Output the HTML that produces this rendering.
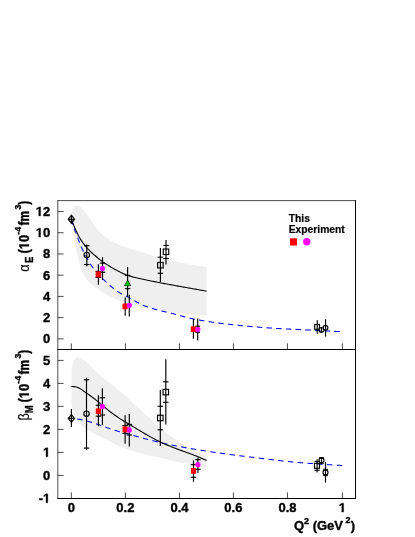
<!DOCTYPE html>
<html><head><meta charset="utf-8"><title>plot</title>
<style>html,body{margin:0;padding:0;background:#fff;}svg{display:block;will-change:transform;}</style></head>
<body><svg width="415" height="537" viewBox="0 0 415 537">
<rect width="415" height="537" fill="#fff"/>
<path d="M71.50,216.00 L71.32,215.44 L71.30,214.67 L71.42,213.72 L71.67,212.66 L72.05,211.52 L72.52,210.35 L73.09,209.20 L73.74,208.13 L74.46,207.17 L75.23,206.37 L76.05,205.78 L76.89,205.45 L77.76,205.43 L78.63,205.69 L79.50,206.20 L80.35,206.87 L81.18,207.65 L81.99,208.49 L82.75,209.31 L83.47,210.13 L84.16,210.93 L84.82,211.73 L85.45,212.52 L86.06,213.31 L86.65,214.09 L87.22,214.88 L87.78,215.67 L88.34,216.47 L88.88,217.28 L89.43,218.09 L89.98,218.92 L90.52,219.76 L91.07,220.60 L91.63,221.44 L92.19,222.29 L92.75,223.14 L93.32,223.99 L93.90,224.83 L94.49,225.67 L95.08,226.51 L95.69,227.34 L96.32,228.16 L96.95,228.96 L97.60,229.76 L98.27,230.54 L98.95,231.30 L99.65,232.05 L100.37,232.78 L101.10,233.49 L101.85,234.19 L102.61,234.87 L103.39,235.53 L104.18,236.18 L104.98,236.82 L105.80,237.43 L106.63,238.03 L107.46,238.62 L108.32,239.19 L109.18,239.75 L110.05,240.29 L110.93,240.81 L111.82,241.32 L112.71,241.82 L113.62,242.30 L114.53,242.76 L115.45,243.22 L116.37,243.65 L117.30,244.08 L118.23,244.49 L119.17,244.88 L120.12,245.27 L121.06,245.64 L122.01,246.00 L122.97,246.35 L123.92,246.69 L124.88,247.02 L125.84,247.35 L126.81,247.67 L127.78,247.98 L128.74,248.28 L129.71,248.58 L130.69,248.88 L131.66,249.18 L132.63,249.47 L133.60,249.76 L134.58,250.05 L135.55,250.34 L136.53,250.63 L137.50,250.92 L138.47,251.21 L139.44,251.51 L140.41,251.81 L141.38,252.11 L142.35,252.41 L143.32,252.71 L144.29,253.01 L145.26,253.31 L146.23,253.62 L147.20,253.92 L148.17,254.22 L149.14,254.52 L150.11,254.82 L151.08,255.12 L152.06,255.42 L153.03,255.71 L154.00,256.00 L154.97,256.29 L155.95,256.58 L156.92,256.87 L157.89,257.15 L158.87,257.43 L159.85,257.70 L160.83,257.97 L161.81,258.24 L162.79,258.50 L163.77,258.76 L164.75,259.02 L165.73,259.27 L166.72,259.52 L167.70,259.76 L168.69,260.00 L169.68,260.24 L170.67,260.47 L171.66,260.70 L172.65,260.93 L173.64,261.15 L174.63,261.38 L175.62,261.59 L176.61,261.81 L177.61,262.02 L178.60,262.23 L179.60,262.44 L180.59,262.64 L181.59,262.84 L182.59,263.04 L183.58,263.24 L184.58,263.43 L185.58,263.62 L186.58,263.81 L187.58,264.00 L188.58,264.18 L189.58,264.36 L190.58,264.54 L191.58,264.72 L192.58,264.90 L193.58,265.07 L194.58,265.24 L195.58,265.41 L196.58,265.58 L197.58,265.75 L198.59,265.92 L199.59,266.08 L200.59,266.25 L201.59,266.41 L202.59,266.57 L203.59,266.73 L204.60,266.89 L205.60,267.04 L206.60,267.20 L206.60,315.70 L205.42,315.58 L204.24,315.47 L203.06,315.36 L201.88,315.24 L200.70,315.13 L199.52,315.02 L198.33,314.91 L197.15,314.79 L195.97,314.68 L194.79,314.57 L193.61,314.46 L192.43,314.34 L191.24,314.23 L190.06,314.12 L188.88,314.00 L187.70,313.88 L186.52,313.77 L185.34,313.65 L184.16,313.53 L182.97,313.40 L181.79,313.28 L180.61,313.16 L179.43,313.03 L178.25,312.90 L177.07,312.77 L175.89,312.63 L174.71,312.50 L173.53,312.36 L172.36,312.22 L171.18,312.07 L170.00,311.93 L168.82,311.77 L167.65,311.62 L166.47,311.46 L165.29,311.30 L164.12,311.14 L162.94,310.97 L161.77,310.80 L160.59,310.62 L159.42,310.44 L158.25,310.26 L157.08,310.07 L155.91,309.88 L154.73,309.68 L153.57,309.48 L152.40,309.27 L151.23,309.06 L150.06,308.84 L148.89,308.62 L147.73,308.39 L146.56,308.16 L145.40,307.92 L144.24,307.67 L143.07,307.42 L141.91,307.16 L140.75,306.90 L139.59,306.63 L138.44,306.35 L137.28,306.07 L136.12,305.78 L134.97,305.48 L133.81,305.18 L132.66,304.87 L131.51,304.55 L130.37,304.22 L129.22,303.88 L128.08,303.54 L126.94,303.19 L125.81,302.82 L124.68,302.45 L123.55,302.07 L122.42,301.67 L121.30,301.27 L120.19,300.86 L119.08,300.43 L117.97,300.00 L116.88,299.55 L115.78,299.09 L114.69,298.62 L113.61,298.13 L112.54,297.64 L111.47,297.13 L110.41,296.60 L109.35,296.07 L108.30,295.52 L107.26,294.95 L106.23,294.38 L105.20,293.79 L104.18,293.18 L103.17,292.57 L102.17,291.94 L101.17,291.29 L100.18,290.64 L99.19,289.97 L98.21,289.29 L97.24,288.59 L96.28,287.89 L95.32,287.17 L94.36,286.44 L93.42,285.70 L92.49,284.94 L91.56,284.17 L90.66,283.38 L89.78,282.57 L88.92,281.74 L88.09,280.89 L87.29,280.02 L86.52,279.12 L85.79,278.19 L85.10,277.24 L84.45,276.26 L83.84,275.25 L83.27,274.21 L82.74,273.16 L82.24,272.08 L81.77,270.98 L81.33,269.87 L80.92,268.75 L80.53,267.61 L80.15,266.47 L79.80,265.32 L79.46,264.17 L79.14,263.01 L78.82,261.86 L78.51,260.70 L78.22,259.55 L77.93,258.39 L77.65,257.24 L77.39,256.08 L77.12,254.93 L76.87,253.77 L76.63,252.61 L76.39,251.45 L76.16,250.29 L75.93,249.13 L75.71,247.97 L75.49,246.80 L75.28,245.64 L75.07,244.47 L74.87,243.30 L74.67,242.14 L74.48,240.97 L74.29,239.79 L74.10,238.62 L73.91,237.45 L73.73,236.28 L73.55,235.10 L73.37,233.93 L73.19,232.75 L73.02,231.58 L72.85,230.40 L72.68,229.23 L72.51,228.05 L72.34,226.87 L72.17,225.70 L72.00,224.52 L71.83,223.35 L71.67,222.17 L71.50,221.00Z" fill="#efefef"/>
<path d="M71.60,372.10 L71.64,371.60 L71.70,370.85 L71.80,369.89 L71.94,368.77 L72.12,367.52 L72.36,366.18 L72.65,364.81 L73.02,363.44 L73.46,362.11 L73.98,360.87 L74.59,359.75 L75.29,358.80 L76.10,358.07 L77.01,357.59 L78.04,357.39 L79.15,357.47 L80.29,357.76 L81.42,358.21 L82.48,358.77 L83.46,359.39 L84.37,360.07 L85.23,360.80 L86.05,361.56 L86.84,362.34 L87.63,363.14 L88.42,363.94 L89.21,364.74 L90.00,365.55 L90.79,366.36 L91.57,367.17 L92.36,367.98 L93.16,368.79 L93.96,369.60 L94.76,370.41 L95.56,371.21 L96.38,372.00 L97.20,372.78 L98.02,373.56 L98.86,374.33 L99.70,375.08 L100.55,375.83 L101.41,376.56 L102.28,377.29 L103.15,378.02 L104.03,378.73 L104.91,379.44 L105.79,380.14 L106.68,380.84 L107.58,381.54 L108.47,382.23 L109.37,382.92 L110.26,383.61 L111.16,384.30 L112.06,384.99 L112.96,385.68 L113.85,386.37 L114.74,387.07 L115.63,387.77 L116.52,388.47 L117.40,389.18 L118.28,389.89 L119.15,390.61 L120.02,391.33 L120.88,392.06 L121.74,392.80 L122.60,393.54 L123.45,394.28 L124.30,395.03 L125.15,395.78 L125.99,396.53 L126.83,397.29 L127.67,398.05 L128.50,398.82 L129.34,399.58 L130.17,400.35 L131.00,401.12 L131.83,401.89 L132.66,402.66 L133.49,403.43 L134.31,404.20 L135.14,404.98 L135.97,405.75 L136.80,406.52 L137.63,407.29 L138.46,408.06 L139.29,408.83 L140.12,409.60 L140.95,410.36 L141.78,411.13 L142.62,411.90 L143.45,412.66 L144.29,413.42 L145.13,414.18 L145.96,414.94 L146.80,415.70 L147.64,416.46 L148.48,417.22 L149.33,417.97 L150.17,418.72 L151.02,419.47 L151.86,420.23 L152.71,420.97 L153.56,421.72 L154.41,422.47 L155.26,423.21 L156.12,423.95 L156.97,424.69 L157.83,425.43 L158.69,426.17 L159.55,426.90 L160.41,427.64 L161.27,428.37 L162.14,429.09 L163.01,429.82 L163.88,430.54 L164.76,431.26 L165.64,431.97 L166.52,432.68 L167.40,433.39 L168.29,434.09 L169.18,434.79 L170.07,435.48 L170.97,436.17 L171.87,436.86 L172.78,437.54 L173.69,438.21 L174.60,438.88 L175.52,439.54 L176.44,440.20 L177.37,440.85 L178.30,441.50 L179.24,442.13 L180.18,442.76 L181.12,443.39 L182.07,444.00 L183.03,444.61 L183.99,445.21 L184.96,445.80 L185.93,446.38 L186.91,446.95 L187.89,447.51 L188.88,448.06 L189.87,448.60 L190.87,449.13 L191.88,449.65 L192.89,450.16 L193.90,450.65 L194.93,451.13 L195.96,451.60 L196.99,452.05 L198.03,452.50 L199.08,452.92 L200.13,453.34 L201.20,453.74 L202.26,454.12 L203.34,454.49 L204.42,454.84 L205.51,455.18 L206.60,455.50 L206.60,467.80 L205.59,467.62 L204.59,467.44 L203.59,467.26 L202.58,467.07 L201.58,466.88 L200.58,466.69 L199.57,466.50 L198.57,466.31 L197.57,466.11 L196.57,465.91 L195.57,465.71 L194.57,465.51 L193.57,465.31 L192.57,465.10 L191.57,464.89 L190.57,464.68 L189.57,464.47 L188.57,464.26 L187.57,464.05 L186.57,463.83 L185.58,463.62 L184.58,463.40 L183.58,463.18 L182.59,462.96 L181.59,462.74 L180.59,462.52 L179.60,462.30 L178.60,462.08 L177.60,461.85 L176.61,461.63 L175.61,461.40 L174.62,461.18 L173.62,460.95 L172.63,460.72 L171.63,460.50 L170.64,460.27 L169.64,460.04 L168.65,459.81 L167.65,459.58 L166.66,459.35 L165.66,459.12 L164.67,458.90 L163.68,458.67 L162.68,458.44 L161.69,458.21 L160.69,457.98 L159.70,457.75 L158.70,457.53 L157.71,457.30 L156.71,457.07 L155.72,456.84 L154.72,456.62 L153.73,456.39 L152.73,456.17 L151.74,455.94 L150.74,455.71 L149.75,455.48 L148.75,455.25 L147.76,455.02 L146.77,454.78 L145.77,454.55 L144.78,454.30 L143.79,454.06 L142.80,453.81 L141.81,453.56 L140.82,453.31 L139.84,453.05 L138.85,452.78 L137.86,452.51 L136.88,452.24 L135.90,451.96 L134.91,451.67 L133.93,451.38 L132.96,451.08 L131.98,450.77 L131.01,450.46 L130.03,450.14 L129.06,449.82 L128.10,449.49 L127.13,449.15 L126.17,448.80 L125.21,448.45 L124.26,448.09 L123.30,447.72 L122.36,447.34 L121.41,446.96 L120.47,446.57 L119.53,446.17 L118.60,445.76 L117.67,445.34 L116.74,444.91 L115.82,444.48 L114.90,444.04 L113.99,443.60 L113.08,443.14 L112.17,442.69 L111.26,442.22 L110.35,441.76 L109.45,441.29 L108.54,440.82 L107.64,440.35 L106.74,439.88 L105.83,439.41 L104.92,438.93 L104.02,438.46 L103.11,438.00 L102.20,437.53 L101.28,437.07 L100.37,436.61 L99.44,436.16 L98.52,435.71 L97.59,435.27 L96.66,434.83 L95.73,434.39 L94.80,433.95 L93.87,433.51 L92.95,433.06 L92.03,432.61 L91.12,432.14 L90.22,431.66 L89.33,431.16 L88.46,430.64 L87.60,430.10 L86.76,429.54 L85.93,428.95 L85.13,428.33 L84.34,427.69 L83.57,427.03 L82.81,426.34 L82.07,425.64 L81.33,424.93 L80.60,424.20 L79.87,423.47 L79.16,422.74 L78.45,421.99 L77.78,421.22 L77.14,420.42 L76.56,419.59 L76.03,418.72 L75.56,417.82 L75.14,416.89 L74.75,415.94 L74.38,414.98 L74.02,414.02 L73.68,413.05 L73.35,412.08 L73.04,411.11 L72.74,410.13 L72.47,409.16 L72.22,408.17 L72.00,407.18 L71.81,406.19 L71.66,405.19 L71.54,404.18 L71.46,403.16 L71.42,402.14 L71.43,401.10 L71.49,400.06 L71.60,399.00Z" fill="#efefef"/>
<path d="M71.40,219.20 L71.40,219.20 L71.79,220.89 L72.18,222.45 L72.56,223.78 L72.80,224.53 M74.20,228.48 L74.50,229.24 L74.89,230.21 L75.28,231.18 L75.66,232.16 L76.05,233.16 L76.21,233.59 M77.63,237.55 L77.99,238.57 L78.38,239.65 L78.76,240.72 L79.15,241.75 L79.52,242.71 M81.17,246.58 L81.48,247.26 L81.86,248.10 L82.25,248.92 L82.64,249.73 L83.03,250.53 L83.41,251.32 L83.52,251.54 M85.43,255.29 L85.74,255.88 L86.13,256.61 L86.51,257.33 L86.90,258.04 L87.29,258.73 L87.68,259.42 L88.06,260.10 L88.07,260.11 M90.22,263.72 L90.39,264.00 L90.78,264.61 L91.17,265.21 L91.55,265.79 L91.94,266.34 L92.33,266.87 L92.72,267.38 L93.10,267.87 L93.39,268.21 M96.15,271.37 L96.20,271.43 L96.59,271.88 L96.98,272.33 L97.37,272.78 L97.75,273.23 L98.14,273.68 L98.53,274.13 L98.92,274.57 L99.30,275.02 L99.69,275.46 L99.75,275.53 M102.60,278.61 L102.79,278.81 L103.18,279.19 L103.57,279.57 L103.95,279.94 L104.34,280.31 L104.73,280.68 L105.12,281.04 L105.50,281.41 L105.89,281.77 L106.28,282.13 L106.58,282.41 M109.70,285.22 L109.77,285.27 L110.16,285.61 L110.54,285.95 L110.93,286.28 L111.32,286.61 L111.71,286.93 L112.09,287.25 L112.48,287.57 L112.87,287.89 L113.26,288.20 L113.64,288.51 L113.93,288.74 M117.30,291.24 L117.52,291.39 L117.91,291.65 L118.29,291.91 L118.68,292.17 L119.07,292.42 L119.46,292.66 L119.84,292.90 L120.23,293.14 L120.62,293.37 L121.01,293.59 L121.39,293.80 L121.78,294.01 L121.99,294.12 M125.76,295.96 L126.05,296.10 L126.43,296.28 L126.82,296.48 L127.21,296.67 L127.60,296.87 L127.98,297.08 L128.37,297.28 L128.76,297.49 L129.15,297.70 L129.53,297.92 L129.92,298.14 L130.31,298.36 L130.62,298.53 M134.25,300.65 L134.57,300.84 L134.96,301.06 L135.35,301.29 L135.73,301.51 L136.12,301.74 L136.51,301.96 L136.90,302.18 L137.28,302.39 L137.67,302.61 L138.06,302.82 L138.45,303.03 L138.83,303.24 L139.04,303.35 M142.82,305.16 L143.10,305.28 L143.48,305.43 L143.87,305.59 L144.26,305.74 L144.65,305.89 L145.04,306.03 L145.42,306.18 L145.81,306.32 L146.20,306.46 L146.59,306.60 L146.97,306.73 L147.36,306.87 L147.75,307.00 L147.98,307.08 M151.98,308.34 L152.01,308.35 L152.40,308.47 L152.79,308.58 L153.17,308.70 L153.56,308.81 L153.95,308.92 L154.34,309.03 L154.72,309.14 L155.11,309.25 L155.50,309.36 L155.89,309.47 L156.27,309.58 L156.66,309.69 L157.05,309.79 L157.27,309.85 M161.33,310.92 L161.70,311.01 L162.09,311.11 L162.48,311.20 L162.86,311.29 L163.25,311.39 L163.64,311.48 L164.03,311.57 L164.41,311.66 L164.80,311.75 L165.19,311.84 L165.58,311.93 L165.96,312.02 L166.35,312.11 L166.69,312.19 M170.78,313.14 L171.00,313.19 L171.39,313.28 L171.78,313.38 L172.16,313.47 L172.55,313.57 L172.94,313.66 L173.33,313.76 L173.71,313.85 L174.10,313.95 L174.49,314.05 L174.88,314.15 L175.26,314.25 L175.65,314.36 L176.04,314.46 L176.11,314.48 M180.16,315.60 L180.30,315.64 L180.69,315.75 L181.08,315.86 L181.47,315.97 L181.85,316.08 L182.24,316.19 L182.63,316.30 L183.02,316.41 L183.40,316.51 L183.79,316.62 L184.18,316.73 L184.57,316.84 L184.95,316.94 L185.34,317.05 L185.46,317.08 M189.52,318.12 L189.60,318.14 L189.99,318.23 L190.38,318.32 L190.77,318.41 L191.15,318.50 L191.54,318.58 L191.93,318.66 L192.32,318.74 L192.70,318.82 L193.09,318.90 L193.48,318.97 L193.87,319.05 L194.25,319.12 L194.64,319.20 L194.91,319.25 M199.04,320.01 L199.29,320.05 L199.68,320.12 L200.07,320.19 L200.46,320.26 L200.84,320.32 L201.23,320.39 L201.62,320.46 L202.01,320.52 L202.39,320.59 L202.78,320.65 L203.17,320.72 L203.56,320.78 L203.94,320.85 L204.33,320.91 L204.46,320.93 M208.61,321.59 L208.98,321.65 L209.37,321.70 L209.76,321.76 L210.14,321.82 L210.53,321.88 L210.92,321.94 L211.31,321.99 L211.69,322.05 L212.08,322.11 L212.47,322.16 L212.86,322.22 L213.24,322.28 L213.63,322.33 L214.02,322.39 L214.05,322.39 M218.21,322.96 L218.28,322.97 L218.67,323.02 L219.06,323.07 L219.45,323.12 L219.83,323.17 L220.22,323.22 L220.61,323.27 L221.00,323.32 L221.38,323.37 L221.77,323.42 L222.16,323.47 L222.55,323.52 L222.93,323.57 L223.32,323.61 L223.67,323.66 M227.84,324.15 L227.97,324.17 L228.36,324.21 L228.75,324.26 L229.13,324.30 L229.52,324.35 L229.91,324.39 L230.30,324.43 L230.68,324.48 L231.07,324.52 L231.46,324.56 L231.85,324.61 L232.23,324.65 L232.62,324.69 L233.01,324.73 L233.30,324.77 M237.48,325.21 L237.66,325.23 L238.05,325.27 L238.44,325.31 L238.82,325.35 L239.21,325.39 L239.60,325.43 L239.99,325.47 L240.37,325.51 L240.76,325.55 L241.15,325.59 L241.54,325.63 L241.92,325.67 L242.31,325.70 L242.70,325.74 L242.95,325.77 M247.13,326.17 L247.35,326.19 L247.74,326.22 L248.12,326.26 L248.51,326.30 L248.90,326.33 L249.29,326.37 L249.67,326.40 L250.06,326.44 L250.45,326.47 L250.84,326.51 L251.22,326.54 L251.61,326.58 L252.00,326.61 L252.39,326.64 L252.61,326.66 M256.79,327.02 L257.04,327.04 L257.43,327.07 L257.81,327.10 L258.20,327.13 L258.59,327.16 L258.98,327.20 L259.36,327.23 L259.75,327.26 L260.14,327.29 L260.53,327.32 L260.91,327.35 L261.30,327.38 L261.69,327.41 L262.08,327.44 L262.28,327.45 M266.47,327.76 L266.73,327.78 L267.11,327.80 L267.50,327.83 L267.89,327.86 L268.28,327.88 L268.66,327.91 L269.05,327.94 L269.44,327.96 L269.83,327.99 L270.22,328.01 L270.60,328.04 L270.99,328.06 L271.38,328.09 L271.77,328.11 L271.95,328.13 M276.15,328.38 L276.42,328.40 L276.80,328.42 L277.19,328.44 L277.58,328.46 L277.97,328.49 L278.35,328.51 L278.74,328.53 L279.13,328.55 L279.52,328.57 L279.90,328.59 L280.29,328.62 L280.68,328.64 L281.07,328.66 L281.45,328.68 L281.64,328.69 M285.83,328.91 L286.10,328.92 L286.49,328.94 L286.88,328.96 L287.27,328.98 L287.65,329.00 L288.04,329.02 L288.43,329.04 L288.82,329.06 L289.21,329.07 L289.59,329.09 L289.98,329.11 L290.37,329.13 L290.76,329.15 L291.14,329.17 L291.32,329.18 M295.52,329.38 L295.79,329.39 L296.18,329.41 L296.57,329.43 L296.96,329.45 L297.34,329.47 L297.73,329.49 L298.12,329.51 L298.51,329.53 L298.89,329.54 L299.28,329.56 L299.67,329.58 L300.06,329.60 L300.44,329.62 L300.83,329.64 L301.01,329.65 M305.21,329.86 L305.48,329.87 L305.87,329.89 L306.26,329.91 L306.65,329.93 L307.03,329.95 L307.42,329.97 L307.81,329.99 L308.20,330.01 L308.58,330.03 L308.97,330.05 L309.36,330.07 L309.75,330.09 L310.13,330.12 L310.52,330.14 L310.70,330.14 M314.89,330.36 L315.17,330.38 L315.56,330.40 L315.95,330.42 L316.33,330.44 L316.72,330.46 L317.11,330.48 L317.50,330.50 L317.88,330.52 L318.27,330.54 L318.66,330.56 L319.05,330.58 L319.43,330.60 L319.82,330.62 L320.21,330.64 L320.39,330.65 M324.58,330.87 L324.86,330.88 L325.25,330.90 L325.64,330.92 L326.02,330.94 L326.41,330.96 L326.80,330.98 L327.19,331.00 L327.57,331.02 L327.96,331.04 L328.35,331.06 L328.74,331.07 L329.12,331.09 L329.51,331.11 L329.90,331.13 L330.07,331.14 M334.27,331.34 L334.55,331.36 L334.94,331.37 L335.32,331.39 L335.71,331.41 L336.10,331.43 L336.49,331.45 L336.87,331.46 L337.26,331.48 L337.65,331.50 L338.04,331.52 L338.42,331.53 L338.81,331.55 L339.20,331.57 L339.59,331.58 L339.76,331.59" fill="none" stroke="#0000ff" stroke-width="1.05"/>
<path d="M71.40,418.40 L71.40,418.40 L71.79,418.43 L72.18,418.45 L72.56,418.48 L72.85,418.50 M77.12,418.96 L77.21,418.97 L77.60,419.03 L77.99,419.08 L78.38,419.15 L78.76,419.21 L79.15,419.28 L79.54,419.34 L79.93,419.42 L80.31,419.49 L80.70,419.56 L81.09,419.64 L81.48,419.72 L81.86,419.80 L82.25,419.88 L82.53,419.94 M86.71,420.96 L86.90,421.01 L87.29,421.12 L87.68,421.23 L88.06,421.33 L88.45,421.44 L88.84,421.55 L89.23,421.67 L89.62,421.78 L90.00,421.89 L90.39,422.01 L90.78,422.13 L91.17,422.24 L91.55,422.36 L91.94,422.48 L91.99,422.50 M96.08,423.83 L96.20,423.87 L96.59,424.00 L96.98,424.13 L97.37,424.26 L97.75,424.40 L98.14,424.53 L98.53,424.66 L98.92,424.80 L99.30,424.93 L99.69,425.06 L100.08,425.20 L100.47,425.34 L100.85,425.47 L101.24,425.61 L101.28,425.62 M105.33,427.05 L105.50,427.11 L105.89,427.25 L106.28,427.38 L106.67,427.52 L107.05,427.65 L107.44,427.79 L107.83,427.92 L108.22,428.06 L108.61,428.19 L108.99,428.33 L109.38,428.46 L109.77,428.59 L110.16,428.73 L110.53,428.85 M114.61,430.20 L114.81,430.26 L115.19,430.38 L115.58,430.50 L115.97,430.62 L116.36,430.74 L116.74,430.86 L117.13,430.98 L117.52,431.09 L117.91,431.21 L118.29,431.32 L118.68,431.43 L119.07,431.54 L119.46,431.65 L119.84,431.76 L119.88,431.77 M124.03,432.91 L124.11,432.93 L124.49,433.04 L124.88,433.15 L125.27,433.25 L125.66,433.36 L126.05,433.47 L126.43,433.58 L126.82,433.68 L127.21,433.79 L127.60,433.90 L127.98,434.01 L128.37,434.12 L128.76,434.22 L129.15,434.33 L129.33,434.38 M133.47,435.53 L133.80,435.62 L134.18,435.73 L134.57,435.84 L134.96,435.95 L135.35,436.05 L135.73,436.16 L136.12,436.27 L136.51,436.37 L136.90,436.48 L137.28,436.59 L137.67,436.69 L138.06,436.80 L138.45,436.91 L138.77,437.00 M142.92,438.13 L143.10,438.17 L143.48,438.28 L143.87,438.38 L144.26,438.49 L144.65,438.59 L145.04,438.69 L145.42,438.80 L145.81,438.90 L146.20,439.00 L146.59,439.11 L146.97,439.21 L147.36,439.31 L147.75,439.41 L148.14,439.52 L148.24,439.54 M152.40,440.62 L152.79,440.72 L153.17,440.81 L153.56,440.91 L153.95,441.01 L154.34,441.11 L154.72,441.20 L155.11,441.30 L155.50,441.40 L155.89,441.49 L156.27,441.59 L156.66,441.68 L157.05,441.78 L157.44,441.87 L157.74,441.95 M161.92,442.94 L162.09,442.97 L162.48,443.06 L162.86,443.15 L163.25,443.24 L163.64,443.33 L164.03,443.42 L164.41,443.50 L164.80,443.59 L165.19,443.68 L165.58,443.76 L165.96,443.85 L166.35,443.93 L166.74,444.01 L167.13,444.10 L167.29,444.13 M171.50,445.00 L171.78,445.06 L172.16,445.14 L172.55,445.22 L172.94,445.29 L173.33,445.37 L173.71,445.45 L174.10,445.52 L174.49,445.60 L174.88,445.68 L175.26,445.75 L175.65,445.83 L176.04,445.90 L176.43,445.98 L176.81,446.05 L176.90,446.07 M181.12,446.86 L181.47,446.93 L181.85,447.00 L182.24,447.07 L182.63,447.14 L183.02,447.21 L183.40,447.28 L183.79,447.35 L184.18,447.42 L184.57,447.49 L184.95,447.56 L185.34,447.63 L185.73,447.70 L186.12,447.77 L186.50,447.84 L186.53,447.84 M190.77,448.58 L191.15,448.64 L191.54,448.71 L191.93,448.77 L192.32,448.84 L192.70,448.91 L193.09,448.97 L193.48,449.04 L193.87,449.10 L194.25,449.16 L194.64,449.23 L195.03,449.29 L195.42,449.36 L195.80,449.42 L196.19,449.49 L196.20,449.49 M200.44,450.17 L200.46,450.17 L200.84,450.24 L201.23,450.30 L201.62,450.36 L202.01,450.42 L202.39,450.48 L202.78,450.54 L203.17,450.60 L203.56,450.66 L203.94,450.72 L204.33,450.78 L204.72,450.84 L205.11,450.90 L205.49,450.96 L205.87,451.02 M210.13,451.67 L210.14,451.67 L210.53,451.73 L210.92,451.79 L211.31,451.85 L211.69,451.90 L212.08,451.96 L212.47,452.02 L212.86,452.08 L213.24,452.14 L213.63,452.19 L214.02,452.25 L214.41,452.31 L214.79,452.36 L215.18,452.42 L215.57,452.48 M219.82,453.09 L219.83,453.09 L220.22,453.15 L220.61,453.20 L221.00,453.26 L221.38,453.31 L221.77,453.37 L222.16,453.42 L222.55,453.48 L222.93,453.53 L223.32,453.58 L223.71,453.64 L224.10,453.69 L224.48,453.74 L224.87,453.80 L225.26,453.85 L225.27,453.85 M229.53,454.42 L229.91,454.47 L230.30,454.53 L230.68,454.58 L231.07,454.63 L231.46,454.68 L231.85,454.73 L232.23,454.78 L232.62,454.83 L233.01,454.88 L233.40,454.93 L233.78,454.98 L234.17,455.03 L234.56,455.08 L234.95,455.13 L234.98,455.13 M239.25,455.68 L239.60,455.72 L239.99,455.77 L240.37,455.82 L240.76,455.86 L241.15,455.91 L241.54,455.96 L241.92,456.01 L242.31,456.06 L242.70,456.10 L243.09,456.15 L243.47,456.20 L243.86,456.25 L244.25,456.30 L244.64,456.34 L244.71,456.35 M248.98,456.87 L249.29,456.91 L249.67,456.96 L250.06,457.00 L250.45,457.05 L250.84,457.10 L251.22,457.15 L251.61,457.19 L252.00,457.24 L252.39,457.29 L252.78,457.33 L253.16,457.38 L253.55,457.43 L253.94,457.47 L254.33,457.52 L254.44,457.53 M258.71,458.04 L258.98,458.08 L259.36,458.12 L259.75,458.17 L260.14,458.22 L260.53,458.26 L260.91,458.31 L261.30,458.36 L261.69,458.40 L262.08,458.45 L262.46,458.50 L262.85,458.54 L263.24,458.59 L263.63,458.64 L264.01,458.69 L264.17,458.70 M268.44,459.23 L268.66,459.26 L269.05,459.30 L269.44,459.35 L269.83,459.40 L270.22,459.45 L270.60,459.49 L270.99,459.54 L271.38,459.59 L271.77,459.63 L272.15,459.68 L272.54,459.73 L272.93,459.78 L273.32,459.82 L273.70,459.87 L273.89,459.89 M278.16,460.40 L278.35,460.43 L278.74,460.47 L279.13,460.52 L279.52,460.56 L279.90,460.61 L280.29,460.65 L280.68,460.70 L281.07,460.74 L281.45,460.79 L281.84,460.83 L282.23,460.88 L282.62,460.92 L283.00,460.96 L283.39,461.01 L283.63,461.04 M287.90,461.50 L288.04,461.52 L288.43,461.56 L288.82,461.60 L289.21,461.64 L289.59,461.68 L289.98,461.72 L290.37,461.76 L290.76,461.80 L291.14,461.83 L291.53,461.87 L291.92,461.91 L292.31,461.95 L292.69,461.99 L293.08,462.02 L293.38,462.05 M297.66,462.44 L297.73,462.45 L298.12,462.48 L298.51,462.51 L298.89,462.54 L299.28,462.58 L299.67,462.61 L300.06,462.64 L300.44,462.67 L300.83,462.71 L301.22,462.74 L301.61,462.77 L301.99,462.80 L302.38,462.83 L302.77,462.86 L303.14,462.89 M307.43,463.23 L307.81,463.26 L308.20,463.29 L308.58,463.32 L308.97,463.34 L309.36,463.37 L309.75,463.40 L310.13,463.43 L310.52,463.46 L310.91,463.49 L311.30,463.52 L311.68,463.54 L312.07,463.57 L312.46,463.60 L312.85,463.63 L312.91,463.63 M317.20,463.93 L317.50,463.95 L317.88,463.98 L318.27,464.01 L318.66,464.03 L319.05,464.06 L319.43,464.08 L319.82,464.11 L320.21,464.14 L320.60,464.16 L320.98,464.19 L321.37,464.21 L321.76,464.24 L322.15,464.26 L322.53,464.29 L322.69,464.30 M326.98,464.57 L327.19,464.59 L327.57,464.61 L327.96,464.64 L328.35,464.66 L328.74,464.68 L329.12,464.71 L329.51,464.73 L329.90,464.76 L330.29,464.78 L330.67,464.81 L331.06,464.83 L331.45,464.85 L331.84,464.88 L332.22,464.90 L332.47,464.92 M336.76,465.18 L336.87,465.18 L337.26,465.21 L337.65,465.23 L338.04,465.25 L338.42,465.28 L338.81,465.30 L339.20,465.32 L339.59,465.35 L339.97,465.37 L340.36,465.39 L340.75,465.41 L341.14,465.44 L341.52,465.46 L341.91,465.48 L342.25,465.50" fill="none" stroke="#0000ff" stroke-width="1.05"/>
<path d="M71.40,219.20 L72.54,222.24 L73.67,225.13 L74.81,227.86 L75.94,230.40 L77.08,232.85 L78.22,235.15 L79.35,237.27 L80.49,239.16 L81.63,240.92 L82.76,242.58 L83.90,244.13 L85.03,245.60 L86.17,246.97 L87.31,248.27 L88.44,249.48 L89.58,250.63 L90.71,251.72 L91.85,252.78 L92.99,253.79 L94.12,254.80 L95.26,255.79 L96.39,256.78 L97.53,257.76 L98.67,258.72 L99.80,259.65 L100.94,260.53 L102.08,261.35 L103.21,262.14 L104.35,262.92 L105.48,263.67 L106.62,264.41 L107.76,265.14 L108.89,265.84 L110.03,266.53 L111.16,267.21 L112.30,267.87 L113.44,268.52 L114.57,269.15 L115.71,269.77 L116.85,270.38 L117.98,270.97 L119.12,271.56 L120.25,272.13 L121.39,272.69 L122.53,273.25 L123.66,273.78 L124.80,274.29 L125.93,274.77 L127.07,275.20 L128.21,275.58 L129.34,275.94 L130.48,276.27 L131.62,276.59 L132.75,276.89 L133.89,277.17 L135.02,277.45 L136.16,277.72 L137.30,277.98 L138.43,278.24 L139.57,278.50 L140.70,278.76 L141.84,279.02 L142.98,279.27 L144.11,279.52 L145.25,279.77 L146.38,280.01 L147.52,280.25 L148.66,280.48 L149.79,280.71 L150.93,280.94 L152.07,281.17 L153.20,281.39 L154.34,281.62 L155.47,281.84 L156.61,282.06 L157.75,282.28 L158.88,282.51 L160.02,282.73 L161.15,282.95 L162.29,283.17 L163.43,283.38 L164.56,283.60 L165.70,283.81 L166.84,284.03 L167.97,284.24 L169.11,284.45 L170.24,284.66 L171.38,284.87 L172.52,285.08 L173.65,285.28 L174.79,285.49 L175.92,285.69 L177.06,285.90 L178.20,286.10 L179.33,286.31 L180.47,286.51 L181.61,286.71 L182.74,286.92 L183.88,287.12 L185.01,287.32 L186.15,287.52 L187.29,287.72 L188.42,287.92 L189.56,288.13 L190.69,288.33 L191.83,288.53 L192.97,288.73 L194.10,288.94 L195.24,289.14 L196.37,289.34 L197.51,289.55 L198.65,289.75 L199.78,289.96 L200.92,290.17 L202.06,290.37 L203.19,290.58 L204.33,290.79 L205.46,290.99 L206.60,291.20" fill="none" stroke="#000" stroke-width="1.1"/>
<path d="M71.40,386.40 L72.54,386.45 L73.67,386.58 L74.81,386.78 L75.94,387.01 L77.08,387.27 L78.22,387.66 L79.35,388.19 L80.49,388.85 L81.63,389.60 L82.76,390.41 L83.90,391.24 L85.03,392.07 L86.17,392.88 L87.31,393.64 L88.44,394.42 L89.58,395.21 L90.71,396.02 L91.85,396.85 L92.99,397.69 L94.12,398.55 L95.26,399.42 L96.39,400.31 L97.53,401.22 L98.67,402.14 L99.80,403.12 L100.94,404.15 L102.08,405.18 L103.21,406.18 L104.35,407.11 L105.48,408.03 L106.62,408.93 L107.76,409.83 L108.89,410.71 L110.03,411.58 L111.16,412.44 L112.30,413.29 L113.44,414.12 L114.57,414.94 L115.71,415.75 L116.85,416.55 L117.98,417.34 L119.12,418.11 L120.25,418.87 L121.39,419.61 L122.53,420.33 L123.66,421.03 L124.80,421.72 L125.93,422.41 L127.07,423.08 L128.21,423.75 L129.34,424.43 L130.48,425.10 L131.62,425.78 L132.75,426.46 L133.89,427.14 L135.02,427.82 L136.16,428.51 L137.30,429.19 L138.43,429.87 L139.57,430.55 L140.70,431.22 L141.84,431.90 L142.98,432.57 L144.11,433.24 L145.25,433.90 L146.38,434.56 L147.52,435.21 L148.66,435.86 L149.79,436.50 L150.93,437.13 L152.07,437.76 L153.20,438.37 L154.34,438.98 L155.47,439.58 L156.61,440.17 L157.75,440.74 L158.88,441.31 L160.02,441.86 L161.15,442.41 L162.29,442.93 L163.43,443.44 L164.56,443.94 L165.70,444.42 L166.84,444.90 L167.97,445.37 L169.11,445.84 L170.24,446.30 L171.38,446.76 L172.52,447.21 L173.65,447.65 L174.79,448.09 L175.92,448.52 L177.06,448.94 L178.20,449.36 L179.33,449.78 L180.47,450.20 L181.61,450.61 L182.74,451.03 L183.88,451.44 L185.01,451.85 L186.15,452.26 L187.29,452.67 L188.42,453.09 L189.56,453.50 L190.69,453.92 L191.83,454.35 L192.97,454.77 L194.10,455.21 L195.24,455.65 L196.37,456.09 L197.51,456.54 L198.65,457.00 L199.78,457.47 L200.92,457.95 L202.06,458.43 L203.19,458.92 L204.33,459.41 L205.46,459.90 L206.60,460.40" fill="none" stroke="#000" stroke-width="1.1"/>
<g stroke="#000" stroke-width="1" fill="none">
<line x1="57.8" y1="200.29999999999998" x2="57.8" y2="499.0" stroke-width="0.7"/>
<line x1="355.5" y1="200.1" x2="355.5" y2="499.0"/>
<line x1="57.5" y1="200.6" x2="356.0" y2="200.6" stroke-width="0.7"/>
<line x1="57.5" y1="349.5" x2="356.0" y2="349.5" stroke-width="1.2"/>
<line x1="57.5" y1="498.5" x2="356.0" y2="498.5" stroke-width="1.2"/>
</g>
<g stroke="#000" stroke-width="0.7">
<line x1="57.8" y1="338.85" x2="63.599999999999994" y2="338.85"/>
<line x1="57.8" y1="317.62" x2="63.599999999999994" y2="317.62"/>
<line x1="57.8" y1="296.40" x2="63.599999999999994" y2="296.40"/>
<line x1="57.8" y1="275.17" x2="63.599999999999994" y2="275.17"/>
<line x1="57.8" y1="253.95" x2="63.599999999999994" y2="253.95"/>
<line x1="57.8" y1="232.72" x2="63.599999999999994" y2="232.72"/>
<line x1="57.8" y1="211.49" x2="63.599999999999994" y2="211.49"/>
<line x1="57.8" y1="475.40" x2="63.599999999999994" y2="475.40"/>
<line x1="57.8" y1="452.40" x2="63.599999999999994" y2="452.40"/>
<line x1="57.8" y1="429.40" x2="63.599999999999994" y2="429.40"/>
<line x1="57.8" y1="406.40" x2="63.599999999999994" y2="406.40"/>
<line x1="57.8" y1="383.40" x2="63.599999999999994" y2="383.40"/>
<line x1="57.8" y1="360.40" x2="63.599999999999994" y2="360.40"/>
<line x1="71.33" y1="349.5" x2="71.33" y2="343.4"/>
<line x1="71.33" y1="498.5" x2="71.33" y2="492.4"/>
<line x1="125.40" y1="349.5" x2="125.40" y2="343.4"/>
<line x1="125.40" y1="498.5" x2="125.40" y2="492.4"/>
<line x1="179.46" y1="349.5" x2="179.46" y2="343.4"/>
<line x1="179.46" y1="498.5" x2="179.46" y2="492.4"/>
<line x1="233.40" y1="349.5" x2="233.40" y2="343.4"/>
<line x1="233.40" y1="498.5" x2="233.40" y2="492.4"/>
<line x1="287.46" y1="349.5" x2="287.46" y2="343.4"/>
<line x1="287.46" y1="498.5" x2="287.46" y2="492.4"/>
<line x1="342.40" y1="349.5" x2="342.40" y2="343.4"/>
<line x1="342.40" y1="498.5" x2="342.40" y2="492.4"/>
</g>
<g stroke="#000" stroke-width="1.15" fill="none">
<line x1="71.40" y1="215.20" x2="71.40" y2="223.20"/>
<path d="M68.30,219.20 L71.40,215.20 L74.50,219.20 L71.40,223.20Z M68.30,219.20 L74.50,219.20" fill="none"/>
<line x1="86.80" y1="244.40" x2="86.80" y2="266.20"/><line x1="84.10" y1="245.70" x2="89.50" y2="245.70"/><line x1="84.10" y1="264.50" x2="89.50" y2="264.50"/>
<circle cx="86.80" cy="254.90" r="2.7" fill="none"/>
<line x1="98.40" y1="264.30" x2="98.40" y2="284.80"/><line x1="95.50" y1="271.40" x2="101.30" y2="271.40"/><line x1="95.50" y1="277.40" x2="101.30" y2="277.40"/>
<line x1="102.50" y1="257.20" x2="102.50" y2="279.90"/><line x1="99.80" y1="263.20" x2="105.20" y2="263.20"/><line x1="99.80" y1="272.30" x2="105.20" y2="272.30"/>
<line x1="127.60" y1="267.00" x2="127.60" y2="297.00"/><line x1="124.90" y1="275.40" x2="130.30" y2="275.40"/><line x1="124.90" y1="288.70" x2="130.30" y2="288.70"/>
<line x1="125.20" y1="297.60" x2="125.20" y2="315.70"/>
<line x1="129.30" y1="294.70" x2="129.30" y2="316.50"/>
<line x1="160.40" y1="248.10" x2="160.40" y2="282.00"/><line x1="157.70" y1="257.20" x2="163.10" y2="257.20"/><line x1="157.70" y1="273.30" x2="163.10" y2="273.30"/>
<rect x="157.65" y="262.45" width="5.50" height="5.50" fill="none"/>
<line x1="166.00" y1="240.10" x2="166.00" y2="264.40"/><line x1="163.30" y1="245.40" x2="168.70" y2="245.40"/><line x1="163.30" y1="258.50" x2="168.70" y2="258.50"/>
<rect x="163.25" y="249.05" width="5.50" height="5.50" fill="none"/>
<line x1="193.40" y1="318.90" x2="193.40" y2="338.80"/>
<line x1="197.70" y1="318.60" x2="197.70" y2="340.50"/><line x1="195.30" y1="326.20" x2="200.10" y2="326.20"/><line x1="195.30" y1="332.30" x2="200.10" y2="332.30"/>
<line x1="317.25" y1="320.30" x2="317.25" y2="333.70"/>
<rect x="314.70" y="324.50" width="4.80" height="4.80" fill="none"/>
<line x1="321.40" y1="327.00" x2="321.40" y2="333.00"/>
<circle cx="321.40" cy="329.90" r="2.4" fill="none"/>
<line x1="325.55" y1="319.20" x2="325.55" y2="336.60"/>
<circle cx="325.50" cy="327.80" r="2.4" fill="none"/>
<line x1="71.40" y1="409.00" x2="71.40" y2="427.10"/>
<path d="M68.30,418.40 L71.40,414.40 L74.50,418.40 L71.40,422.40Z M68.30,418.40 L74.50,418.40" fill="none"/>
<line x1="86.50" y1="377.70" x2="86.50" y2="449.80"/><line x1="83.80" y1="379.80" x2="89.20" y2="379.80"/><line x1="83.80" y1="448.10" x2="89.20" y2="448.10"/>
<circle cx="86.50" cy="413.70" r="2.7" fill="none"/>
<line x1="98.40" y1="395.20" x2="98.40" y2="426.30"/><line x1="95.70" y1="405.30" x2="101.10" y2="405.30"/><line x1="95.70" y1="416.20" x2="101.10" y2="416.20"/>
<line x1="102.40" y1="388.20" x2="102.40" y2="424.90"/><line x1="99.70" y1="397.80" x2="105.10" y2="397.80"/><line x1="99.70" y1="415.00" x2="105.10" y2="415.00"/>
<line x1="125.10" y1="415.20" x2="125.10" y2="443.70"/><line x1="122.40" y1="425.60" x2="127.80" y2="425.60"/><line x1="122.40" y1="433.30" x2="127.80" y2="433.30"/>
<line x1="129.30" y1="414.00" x2="129.30" y2="446.50"/><line x1="126.60" y1="424.40" x2="132.00" y2="424.40"/><line x1="126.60" y1="435.00" x2="132.00" y2="435.00"/>
<line x1="160.30" y1="390.00" x2="160.30" y2="445.90"/><line x1="157.60" y1="406.30" x2="163.00" y2="406.30"/><line x1="157.60" y1="429.80" x2="163.00" y2="429.80"/>
<rect x="157.55" y="415.25" width="5.50" height="5.50" fill="none"/>
<line x1="165.80" y1="359.20" x2="165.80" y2="424.50"/><line x1="163.10" y1="381.80" x2="168.50" y2="381.80"/><line x1="163.10" y1="402.30" x2="168.50" y2="402.30"/>
<rect x="163.05" y="389.35" width="5.50" height="5.50" fill="none"/>
<line x1="193.50" y1="460.40" x2="193.50" y2="481.80"/><line x1="190.80" y1="464.70" x2="196.20" y2="464.70"/><line x1="190.80" y1="477.30" x2="196.20" y2="477.30"/>
<line x1="197.90" y1="457.50" x2="197.90" y2="473.10"/><line x1="195.20" y1="459.60" x2="200.60" y2="459.60"/><line x1="195.20" y1="469.30" x2="200.60" y2="469.30"/>
<line x1="317.10" y1="459.20" x2="317.10" y2="472.60"/><line x1="314.50" y1="461.50" x2="319.70" y2="461.50"/><line x1="314.50" y1="470.30" x2="319.70" y2="470.30"/>
<rect x="314.50" y="463.30" width="5.00" height="5.00" fill="none"/>
<line x1="321.50" y1="457.20" x2="321.50" y2="463.60"/><line x1="319.20" y1="457.60" x2="323.80" y2="457.60"/><line x1="319.20" y1="463.20" x2="323.80" y2="463.20"/>
<circle cx="321.50" cy="460.30" r="2.5" fill="none"/>
<line x1="325.50" y1="462.10" x2="325.50" y2="482.60"/><line x1="323.20" y1="469.30" x2="327.80" y2="469.30"/><line x1="323.20" y1="475.60" x2="327.80" y2="475.60"/>
<circle cx="325.50" cy="472.40" r="2.5" fill="none"/>
</g>
<rect x="95.70" y="271.45" width="5.40" height="5.90" fill="#ff0000" stroke="none"/>
<circle cx="102.50" cy="268.50" r="2.6" fill="#ff00ff" stroke="none"/>
<path d="M124.50,285.80 L127.60,279.90 L130.70,285.80Z" fill="#00cc00" stroke="#000" stroke-width="0.6"/>
<rect x="122.50" y="303.55" width="5.20" height="5.70" fill="#ff0000" stroke="none"/>
<circle cx="129.30" cy="305.30" r="2.6" fill="#ff00ff" stroke="none"/>
<rect x="190.80" y="326.35" width="5.20" height="5.70" fill="#ff0000" stroke="none"/>
<circle cx="197.80" cy="329.30" r="2.6" fill="#ff00ff" stroke="none"/>
<rect x="95.80" y="408.35" width="5.20" height="5.70" fill="#ff0000" stroke="none"/>
<circle cx="102.40" cy="406.50" r="2.6" fill="#ff00ff" stroke="none"/>
<rect x="122.50" y="426.55" width="5.20" height="5.70" fill="#ff0000" stroke="none"/>
<circle cx="129.30" cy="429.90" r="2.6" fill="#ff00ff" stroke="none"/>
<rect x="190.90" y="468.05" width="5.20" height="5.70" fill="#ff0000" stroke="none"/>
<circle cx="197.90" cy="464.70" r="2.6" fill="#ff00ff" stroke="none"/>
<rect x="290.00" y="238.30" width="7.00" height="7.20" fill="#ff0000" stroke="none"/>
<circle cx="306.80" cy="241.70" r="3.7" fill="#ff00ff" stroke="none"/>
<g font-family="Liberation Sans, sans-serif" font-weight="bold" fill="#000" stroke="#000" stroke-width="0.35" stroke-linejoin="round">
<g transform="translate(42.97,343.25)"><text x="0.00" y="0" font-size="13">0</text></g>
<g transform="translate(42.97,322.02)"><text x="0.00" y="0" font-size="13">2</text></g>
<g transform="translate(42.97,300.80)"><text x="0.00" y="0" font-size="13">4</text></g>
<g transform="translate(42.97,279.57)"><text x="0.00" y="0" font-size="13">6</text></g>
<g transform="translate(42.97,258.35)"><text x="0.00" y="0" font-size="13">8</text></g>
<g transform="translate(35.74,237.12)"><path d="M478 0V1170L140 959V1180L493 1409H759V0Z" transform="translate(0.00,0) scale(0.00635,-0.00635)" stroke-width="55.1"/><text x="7.23" y="0" font-size="13">0</text></g>
<g transform="translate(35.74,215.89)"><path d="M478 0V1170L140 959V1180L493 1409H759V0Z" transform="translate(0.00,0) scale(0.00635,-0.00635)" stroke-width="55.1"/><text x="7.23" y="0" font-size="13">2</text></g>
<g transform="translate(38.64,502.80)"><text x="0.00" y="0" font-size="13">-</text><path d="M478 0V1170L140 959V1180L493 1409H759V0Z" transform="translate(4.33,0) scale(0.00635,-0.00635)" stroke-width="55.1"/></g>
<g transform="translate(42.97,479.80)"><text x="0.00" y="0" font-size="13">0</text></g>
<g transform="translate(42.97,456.80)"><path d="M478 0V1170L140 959V1180L493 1409H759V0Z" transform="translate(0.00,0) scale(0.00635,-0.00635)" stroke-width="55.1"/></g>
<g transform="translate(42.97,433.80)"><text x="0.00" y="0" font-size="13">2</text></g>
<g transform="translate(42.97,410.80)"><text x="0.00" y="0" font-size="13">3</text></g>
<g transform="translate(42.97,387.80)"><text x="0.00" y="0" font-size="13">4</text></g>
<g transform="translate(42.97,364.80)"><text x="0.00" y="0" font-size="13">5</text></g>
<g transform="translate(67.72,512.10)"><text x="0.00" y="0" font-size="13">0</text></g>
<g transform="translate(116.37,512.10)"><text x="0.00" y="0" font-size="13">0.2</text></g>
<g transform="translate(170.43,512.10)"><text x="0.00" y="0" font-size="13">0.4</text></g>
<g transform="translate(224.37,512.10)"><text x="0.00" y="0" font-size="13">0.6</text></g>
<g transform="translate(278.42,512.10)"><text x="0.00" y="0" font-size="13">0.8</text></g>
<g transform="translate(338.79,512.10)"><path d="M478 0V1170L140 959V1180L493 1409H759V0Z" transform="translate(0.00,0) scale(0.00635,-0.00635)" stroke-width="55.1"/></g>
</g>
<g font-family="Liberation Sans, sans-serif" font-weight="bold" fill="#000" stroke="#000" stroke-width="0.35" stroke-linejoin="round" font-size="10.3"><text x="288.7" y="221.8" stroke-width="0.2">This</text><text x="288.7" y="232.6" stroke-width="0.2">Experiment</text></g>
<text font-family="Liberation Sans, sans-serif" font-weight="bold" fill="#000" stroke="#000" stroke-width="0.35" stroke-linejoin="round" font-size="13" text-anchor="end" x="355.2" y="529.6">Q<tspan font-size="9" dy="-5.8">2</tspan><tspan dy="5.8"> (GeV</tspan><tspan font-size="9" dy="-6.2"> 2</tspan><tspan dy="6.2" dx="0.3">)</tspan></text>
<g font-family="Liberation Sans, sans-serif" font-weight="bold" fill="#000" stroke="#000" stroke-width="0.35" stroke-linejoin="round" transform="translate(28.9,0) rotate(-90)"><text transform="translate(-271.80,0.00) scale(0.95,1.05)" font-size="13.5" font-weight="normal" stroke-width="0.1">α</text><text transform="translate(-263.00,3.90) scale(0.95,1.03)" font-size="10" font-weight="bold" stroke-width="0.35">E</text><g transform="translate(-253.60,0) scale(1.0,1.07)"><text x="0.00" y="0" font-size="13">(</text><path d="M478 0V1170L140 959V1180L493 1409H759V0Z" transform="translate(4.33,0) scale(0.00635,-0.00635)" stroke-width="55.1"/><text x="11.56" y="0" font-size="13">0</text></g><text transform="translate(-234.70,-8.40) scale(1.0,1.0)" font-size="8.8" font-weight="bold" stroke-width="0.35">-4</text><text transform="translate(-225.60,0.00) scale(0.92,1.1)" font-size="13" font-weight="bold" stroke-width="0.35">fm</text><text transform="translate(-209.50,-8.40) scale(1.0,1.0)" font-size="8.8" font-weight="bold" stroke-width="0.35">3</text><text transform="translate(-204.70,0.00) scale(0.9,1.07)" font-size="13" font-weight="bold" stroke-width="0.35">)</text></g>
<g font-family="Liberation Sans, sans-serif" font-weight="bold" fill="#000" stroke="#000" stroke-width="0.35" stroke-linejoin="round" transform="translate(28.9,149) rotate(-90)"><text transform="translate(-271.40,0.00) scale(0.95,1.05)" font-size="13.5" font-weight="normal" stroke-width="0.1">β</text><text transform="translate(-264.20,3.90) scale(0.95,1.03)" font-size="10" font-weight="bold" stroke-width="0.35">M</text><g transform="translate(-253.60,0) scale(1.0,1.07)"><text x="0.00" y="0" font-size="13">(</text><path d="M478 0V1170L140 959V1180L493 1409H759V0Z" transform="translate(4.33,0) scale(0.00635,-0.00635)" stroke-width="55.1"/><text x="11.56" y="0" font-size="13">0</text></g><text transform="translate(-234.70,-8.40) scale(1.0,1.0)" font-size="8.8" font-weight="bold" stroke-width="0.35">-4</text><text transform="translate(-225.60,0.00) scale(0.92,1.1)" font-size="13" font-weight="bold" stroke-width="0.35">fm</text><text transform="translate(-209.50,-8.40) scale(1.0,1.0)" font-size="8.8" font-weight="bold" stroke-width="0.35">3</text><text transform="translate(-204.70,0.00) scale(0.9,1.07)" font-size="13" font-weight="bold" stroke-width="0.35">)</text></g>
</svg></body></html>
